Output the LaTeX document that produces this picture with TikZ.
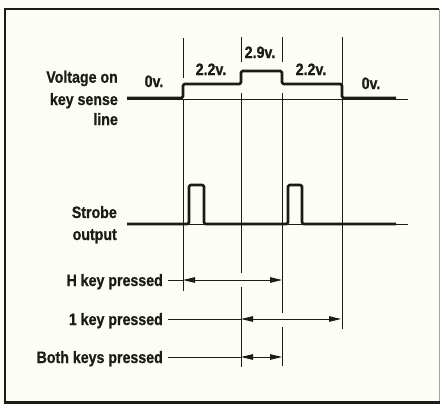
\documentclass[tikz,border=0pt]{standalone}
\usepackage{fontspec}
\setmainfont{Liberation Sans}[FakeStretch=0.86, BoldFeatures={FakeBold=0.8}]
\usetikzlibrary{arrows.meta}
\definecolor{ink}{HTML}{1C1C16}
\definecolor{paper}{HTML}{FDFDF8}
\begin{document}
\begin{tikzpicture}[x=1pt,y=-1pt,
  every node/.style={font=\bfseries\fontsize{16.5}{19}\selectfont, text=ink, inner sep=0pt},
  wave/.style={draw=ink, line width=2.6pt, rounded corners=1.5pt, line join=round},
  base/.style={draw=ink, line width=0.9pt},
  guide/.style={draw=ink, line width=1pt},
  leader/.style={draw=ink, line width=0.9pt},
  dim/.style={draw=ink, line width=0.9pt, {Triangle[length=12pt,width=5.5pt]}-{Triangle[length=12pt,width=5.5pt]}},
  lbl/.style={anchor=base east},
  val/.style={anchor=base}]
\useasboundingbox (0,0) rectangle (440,405);
\fill[paper] (0,0) rectangle (440,405);
% frame
\draw[ink, line width=1.8pt] (5,402) -- (5,9) -- (439,9);
\draw[ink!40, line width=0.8pt] (439,9) -- (439,402);
\draw[ink, line width=3pt] (4,402) -- (440,402);

% row labels
\node[lbl] (volt1) at (118,82.7) {Voltage on};
\node[lbl] (volt2) at (118,105) {key sense};
\node[lbl] (volt3) at (118,125) {line};
\node[lbl] (strobe1) at (117,218) {Strobe};
\node[lbl] (strobe2) at (117,240) {output};
\node[lbl] (hkey) at (163,286) {H key pressed};
\node[lbl] (onekey) at (163,325) {1 key pressed};
\node[lbl] (bothkey) at (163,363) {Both keys pressed};

% voltage values
\node[val] (v0a) at (154,87) {0v.};
\node[val] (v22a) at (211,75) {2.2v.};
\node[val] (v29) at (260,58) {2.9v.};
\node[val] (v22b) at (311,75) {2.2v.};
\node[val] (v0b) at (371,89) {0v.};

% guide line coordinates
\coordinate (g1t) at (183,38);  \coordinate (g1m) at (183,78);
\coordinate (g1b) at (183,99);  \coordinate (g1e) at (183,291);
\coordinate (g2t) at (241,37);  \coordinate (g2m) at (241,62);
\coordinate (g2b) at (241,93);  \coordinate (g2g) at (241,273);
\coordinate (g2h) at (241,287); \coordinate (g2e) at (241,367);
\coordinate (g3t) at (282,37);  \coordinate (g3m) at (282,62);
\coordinate (g3b) at (282,93);  \coordinate (g3g) at (282,313);
\coordinate (g3h) at (282,327); \coordinate (g3e) at (282,366);
\coordinate (g4t) at (342,37);  \coordinate (g4m) at (342,84);
\coordinate (g4b) at (342,98);  \coordinate (g4e) at (342,329);

\draw[guide] (g1t) -- (g1m) (g1b) -- (g1e);
\draw[guide] (g2t) -- (g2m) (g2b) -- (g2g) (g2h) -- (g2e);
\draw[guide] (g3t) -- (g3m) (g3b) -- (g3g) (g3h) -- (g3e);
\draw[guide] (g4t) -- (g4m) (g4b) -- (g4e);

% baselines
\draw[base] (127,99.5) -- (408,99.5);
\draw[base] (127,224) -- (408,224);

% key sense waveform
\draw[wave] (127,98) -- (183,98) -- (183,84) -- (241,84) -- (241,71)
  -- (282,71) -- (282,84) -- (342,84) -- (342,98) -- (396,98);
% strobe waveform
\draw[wave] (127,224) -- (189,224) -- (189,185) -- (204,185) -- (204,224)
  -- (288,224) -- (288,185) -- (302,185) -- (302,224) -- (396,224);

% dimension rows
\coordinate (h1) at (183,280); \coordinate (h2) at (282,280);
\coordinate (k1) at (241,319); \coordinate (k2) at (341,319);
\coordinate (b1) at (241,357); \coordinate (b2) at (282,357);
\draw[leader] ([xshift=5pt]hkey.east |- h1) -- (h1);
\draw[dim] (h1) -- (h2);
\draw[leader] ([xshift=5pt]onekey.east |- k1) -- (k1);
\draw[dim] (k1) -- (k2);
\draw[leader] ([xshift=5pt]bothkey.east |- b1) -- (b1);
\draw[dim] (b1) -- (b2);
\end{tikzpicture}
\end{document}
